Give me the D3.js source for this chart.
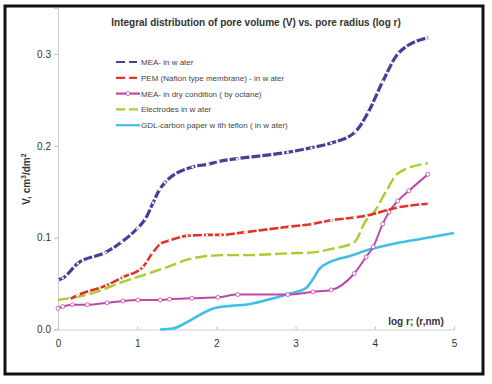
<!DOCTYPE html>
<html><head><meta charset="utf-8">
<script src="https://cdn.jsdelivr.net/npm/d3@7"></script>
<style>body{margin:0;background:#fff}svg{display:block;font-family:Arial,"Liberation Sans",sans-serif}</style>
</head><body><svg id="c" width="492" height="384"></svg>
<script>
const xTicks = [0,1,2,3,4,5];
const yTicks = [0,0.1,0.2,0.3];
const seriesNames = ["MEA- in w ater","PEM (Nafion type membrane) - in w ater","MEA- in dry condition ( by octane)","Electrodes in w ater","GDL-carbon paper w ith teflon ( in w ater)"];
const meaWaterX = [0,0.06,0.25,0.6,0.8,1.0,1.1,1.2,1.28,1.35,1.7,1.9,2.03,2.26,2.9,3.2,3.45,3.75,3.92,4.1,4.3,4.68];
const meaWaterY = [0.054,0.056,0.072,0.084,0.095,0.110,0.120,0.138,0.152,0.160,0.177,0.180,0.183,0.186,0.193,0.198,0.203,0.215,0.237,0.270,0.301,0.318];
const pemX = [0.15,0.24,0.61,0.82,1.07,1.19,1.29,1.41,1.63,1.88,2.05,2.36,2.92,3.22,3.45,3.74,3.89,4.29,4.68];
const pemY = [0.033,0.037,0.048,0.057,0.068,0.083,0.093,0.097,0.102,0.103,0.103,0.106,0.112,0.115,0.119,0.122,0.124,0.133,0.137];
const meaDryX = [0,0.06,0.18,0.37,0.62,0.82,1.01,1.29,1.41,1.69,2.02,2.27,2.90,3.22,3.45,3.74,3.89,3.98,4.1,4.18,4.29,4.43,4.67];
const meaDryY = [0.023,0.025,0.027,0.027,0.029,0.031,0.032,0.032,0.033,0.034,0.035,0.038,0.038,0.041,0.043,0.061,0.079,0.090,0.115,0.128,0.140,0.151,0.169];
const electX = [0,0.49,0.82,1.07,1.38,1.63,1.88,2.14,2.36,2.92,3.22,3.47,3.74,3.89,3.99,4.14,4.29,4.67];
const electY = [0.032,0.041,0.052,0.059,0.068,0.076,0.080,0.081,0.081,0.083,0.084,0.088,0.095,0.119,0.128,0.150,0.170,0.181];
const gdlX = [1.29,1.45,1.63,1.79,1.96,2.21,2.36,2.63,2.92,3.13,3.22,3.3,3.42,3.55,3.64,3.93,4.27,4.61,5.0];
const gdlY = [0.0,0.001,0.008,0.016,0.023,0.026,0.027,0.032,0.039,0.045,0.055,0.066,0.073,0.077,0.079,0.087,0.094,0.099,0.105];
const colors = ["#4a3f98","#e0342b","#c046a8","#a9cc2e","#3fbfe6"];

const svg = d3.select("#c");
svg.append("rect").attr("x",5).attr("y",6).attr("width",478).attr("height",368)
  .attr("fill","#fff").attr("stroke","#111").attr("stroke-width",3);

const x = d3.scaleLinear().domain([0,5]).range([58,454]);
const y = d3.scaleLinear().domain([0,0.35]).range([329.5,8.1]);

const gy = svg.append("g").attr("transform","translate(58,0)")
  .call(d3.axisLeft(y).tickValues(yTicks).tickFormat(d3.format(".1f")).tickSize(4).tickPadding(3));
gy.select(".domain").attr("stroke","#ccc");
gy.selectAll(".tick line").attr("stroke","#bbb");
gy.selectAll("text").attr("fill","#333").style("font-size","10px");

const gx = svg.append("g").attr("transform","translate(0,329.5)")
  .call(d3.axisBottom(x).tickValues(xTicks).tickFormat(d3.format("d")).tickSize(-3).tickPadding(10));
gx.select(".domain").attr("stroke","#ccc");
gx.selectAll(".tick line").attr("stroke","#bbb");
gx.selectAll("text").attr("fill","#333").style("font-size","10px");

svg.append("text").attr("x",256).attr("y",26).attr("text-anchor","middle")
  .attr("font-weight","bold").attr("font-size","10px").attr("fill","#333")
  .text("Integral distribution of pore volume (V) vs. pore radius (log r)");
svg.append("text").attr("transform","translate(30,179) rotate(-90)").attr("text-anchor","middle")
  .attr("font-weight","bold").attr("font-size","10px").attr("fill","#333")
  .html('V, cm<tspan dy="-4" font-size="7px">3</tspan><tspan dy="4">/dm</tspan><tspan dy="-4" font-size="7px">2</tspan>');
svg.append("text").attr("x",416).attr("y",325).attr("text-anchor","middle")
  .attr("font-weight","bold").attr("font-size","10px").attr("fill","#333")
  .text("log r; (r,nm)");

const line = d3.line().x(d=>x(d[0])).y(d=>y(d[1])).curve(d3.curveMonotoneX);
const zip = (a,b)=>a.map((v,i)=>[v,b[i]]);
const series = [
  {d:zip(meaWaterX,meaWaterY), dash:"9,2", w:3.2, marker:"white"},
  {d:zip(pemX,pemY), dash:"9,2", w:2.6, marker:"white"},
  {d:zip(meaDryX,meaDryY), dash:null, w:2, marker:"open"},
  {d:zip(electX,electY), dash:"12,4", w:2.4, marker:null},
  {d:zip(gdlX,gdlY), dash:null, w:2.6, marker:null}
];
[4,3,2,1,0].forEach(i=>{
  const s = series[i];
  svg.append("path").attr("d",line(s.d)).attr("fill","none").attr("stroke",colors[i])
    .attr("stroke-width",s.w).attr("stroke-dasharray",s.dash);
  if(s.marker){
    svg.append("g").selectAll("circle").data(s.d).join("circle")
      .attr("cx",d=>x(d[0])).attr("cy",d=>y(d[1]))
      .attr("r", s.marker==="open"?2:1.2)
      .attr("fill","#fff")
      .attr("stroke", s.marker==="open"?colors[i]:"none").attr("stroke-width",0.8);
  }
});

const lg = svg.append("g");
seriesNames.forEach((n,i)=>{
  const yy = 62 + i*15.8;
  const s = series[i];
  lg.append("line").attr("x1",116).attr("x2",140).attr("y1",yy).attr("y2",yy)
    .attr("stroke",colors[i]).attr("stroke-width",2.2)
    .attr("stroke-dasharray", i===3?"9,4":(i<2?"9,3":null));
  if(s.marker){
    lg.append("circle").attr("cx",128).attr("cy",yy).attr("r",s.marker==="open"?2:1.2)
      .attr("fill","#fff").attr("stroke",s.marker==="open"?colors[i]:"none").attr("stroke-width",0.8);
  }
  lg.append("text").attr("x",141).attr("y",yy+3).attr("font-size","8px").attr("fill","#444").text(n);
});
</script></body></html>
